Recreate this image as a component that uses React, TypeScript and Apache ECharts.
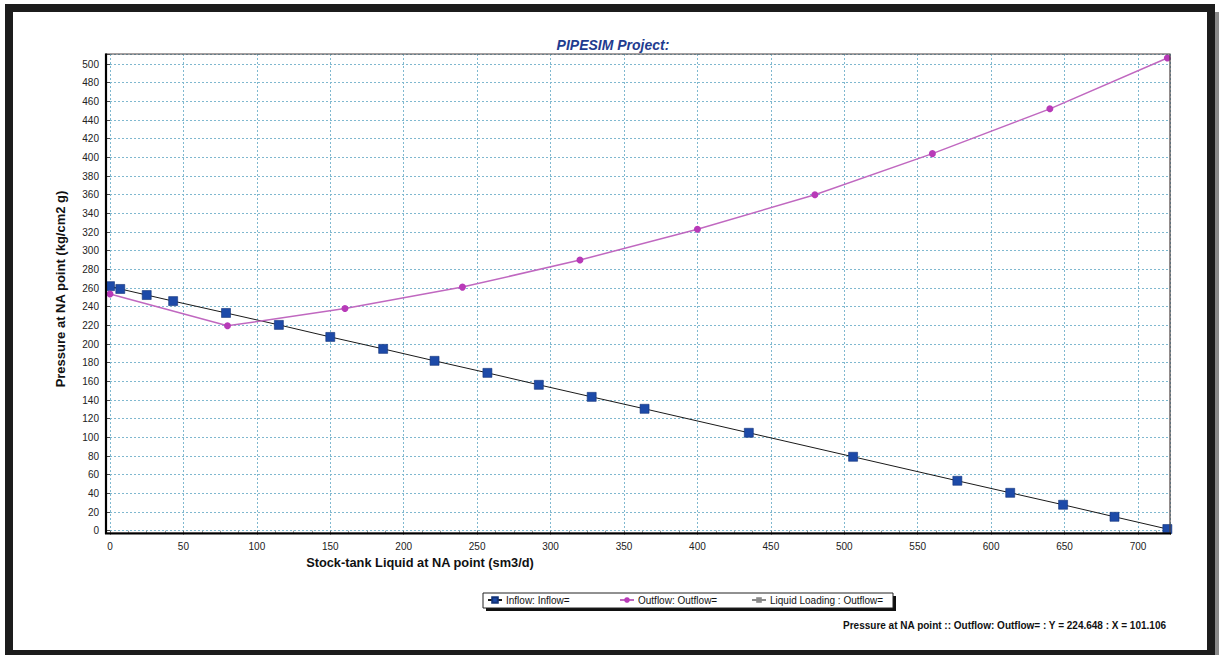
import React, { useEffect, useRef } from "react";
import * as echarts from "echarts";

// ---- data ----
const inflowRate = [0, 7, 25, 43, 79, 115, 150, 186, 221, 257, 292, 328, 364, 435, 506, 577, 613, 649, 684, 720];
const inflowPressure = [262, 259, 252.5, 246, 233.3, 220.5, 207.6, 194.8, 182, 169.1, 156.3, 143.4, 130.6, 104.9, 79.2, 53.5, 40.6, 27.8, 14.9, 1.8];
const outflowRate = [0, 80, 160, 240, 320, 400, 480, 560, 640, 720];
const outflowPressure = [253.6, 219.5, 238, 261, 290, 323, 360, 404, 452, 506.5];
const seriesNames = ["Inflow: Inflow=", "Outflow: Outflow=", "Liquid Loading : Outflow="];
const xTickStep = 50;
const yTickStep = 20;

const titleText = "PIPESIM Project:";
const xAxisTitle = "Stock-tank Liquid at NA point (sm3/d)";
const yAxisTitle = "Pressure at NA point (kg/cm2 g)";
const footerText = "Pressure at NA point :: Outflow: Outflow= : Y = 224.648 : X = 101.106";

const FONT = "'Liberation Sans', Arial, sans-serif";

export default function App() {
  const ref = useRef<HTMLDivElement>(null);
  useEffect(() => {
    if (!ref.current) return;
    const chart = echarts.init(ref.current, null, { renderer: "svg" });
    const inflow = inflowRate.map((q, i) => [q, inflowPressure[i]]);
    const outflow = outflowRate.map((q, i) => [q, outflowPressure[i]]);
    const legendBase = {
      padding: 0,
      itemWidth: 14,
      itemHeight: 7,
      itemGap: 4,
      top: 595,
      textStyle: { fontSize: 10, fontFamily: FONT, color: "#111", padding: [0, 0, 0, -1] },
    };
    const gridLine = { show: true, lineStyle: { color: "#7fb8cf", type: [2, 2], width: 1 } };
    chart.setOption({
      animation: false,
      backgroundColor: "#ffffff",
      title: {
        text: titleText,
        left: 608,
        top: 33,
        textAlign: "center",
        textStyle: { fontSize: 14, fontWeight: "bold", fontStyle: "italic", color: "#1f3c8f", fontFamily: FONT },
      },
      grid: { left: 110, right: 52, top: 54, bottom: 124.3, containLabel: false },
      xAxis: {
        type: "value",
        min: 0,
        max: 721.8,
        interval: xTickStep,
        offset: 3,
        axisLine: { show: false },
        axisTick: { show: true, length: 4, lineStyle: { color: "#666" } },
        minorTick: { show: true, splitNumber: 4, length: 3, lineStyle: { color: "#999" } },
        axisLabel: {
          fontSize: 10,
          fontFamily: FONT,
          color: "#222",
          margin: 8,
          formatter: (v: number) => (Math.abs(v % xTickStep) < 1e-6 ? String(v) : ""),
        },
        splitLine: gridLine,
      },
      yAxis: {
        type: "value",
        min: 0,
        max: 510.75,
        interval: yTickStep,
        offset: 4,
        axisLine: { show: false },
        axisTick: { show: true, length: 4, lineStyle: { color: "#444" } },
        axisLabel: {
          fontSize: 10,
          fontFamily: FONT,
          color: "#222",
          margin: 7,
          formatter: (v: number) => (Math.abs(v % yTickStep) < 1e-6 ? String(v) : ""),
        },
        splitLine: gridLine,
      },
      legend: [
        { ...legendBase, left: 487, data: [seriesNames[0]] },
        { ...legendBase, left: 619, data: [seriesNames[1]] },
        { ...legendBase, left: 751, data: [seriesNames[2]] },
      ],
      series: [
        {
          name: seriesNames[0],
          type: "line",
          data: inflow,
          clip: false,
          symbol: "rect",
          symbolSize: 9,
          lineStyle: { color: "#1a1a1a", width: 1 },
          itemStyle: { color: "#1d4aa8", borderColor: "#123378", borderWidth: 0.6 },
          z: 3,
        },
        {
          name: seriesNames[1],
          type: "line",
          data: outflow,
          clip: false,
          symbol: "circle",
          symbolSize: 7,
          lineStyle: { color: "#c068c0", width: 1.5 },
          itemStyle: { color: "#b83ab8" },
          z: 4,
        },
        {
          name: seriesNames[2],
          type: "line",
          data: [],
          symbol: "rect",
          symbolSize: 8,
          lineStyle: { color: "#8a8a8a", width: 1 },
          itemStyle: { color: "#8a8a8a" },
        },
      ],
      graphic: [
        // outer frame
        { type: "rect", shape: { x: 1215, y: 12, width: 4, height: 643 }, style: { fill: "#8a8a8a" }, z: 9 },
        { type: "rect", shape: { x: 9, y: 8, width: 1202, height: 646 }, style: { fill: "none", stroke: "#1c1c1c", lineWidth: 8 }, z: 10 },
        // plot border
        { type: "rect", shape: { x: 106, y: 54, width: 1064, height: 479 }, style: { fill: "none", stroke: "#4a4040", lineWidth: 1.2 }, z: 5 },
        { type: "line", shape: { x1: 106, y1: 53.5, x2: 106, y2: 534 }, style: { stroke: "#000", lineWidth: 2.2 }, z: 6 },
        { type: "line", shape: { x1: 105, y1: 533.5, x2: 1171, y2: 533.5 }, style: { stroke: "#000", lineWidth: 2.2 }, z: 6 },
        // axis titles
        {
          type: "text",
          x: 420,
          y: 562,
          style: { text: xAxisTitle, font: `bold 12.8px ${FONT}`, fill: "#111", align: "center", verticalAlign: "middle" },
        },
        {
          type: "text",
          x: 60,
          y: 289,
          rotation: Math.PI / 2,
          style: { text: yAxisTitle, font: `bold 13px ${FONT}`, fill: "#111", align: "center", verticalAlign: "middle" },
        },
        // legend box with shadow
        { type: "rect", shape: { x: 486, y: 596, width: 410, height: 15 }, style: { fill: "#111" }, z: 0 },
        { type: "rect", shape: { x: 483, y: 593, width: 410, height: 15 }, style: { fill: "#fff", stroke: "#222", lineWidth: 1 }, z: 1 },
        // footer
        {
          type: "text",
          x: 1166,
          y: 625,
          style: { text: footerText, font: `bold 10px ${FONT}`, fill: "#111", align: "right", verticalAlign: "middle" },
        },
      ],
    });
    return () => chart.dispose();
  }, []);
  return <div ref={ref} style={{ position: "absolute", left: 0, top: 0, width: 1222, height: 655 }} />;
}
